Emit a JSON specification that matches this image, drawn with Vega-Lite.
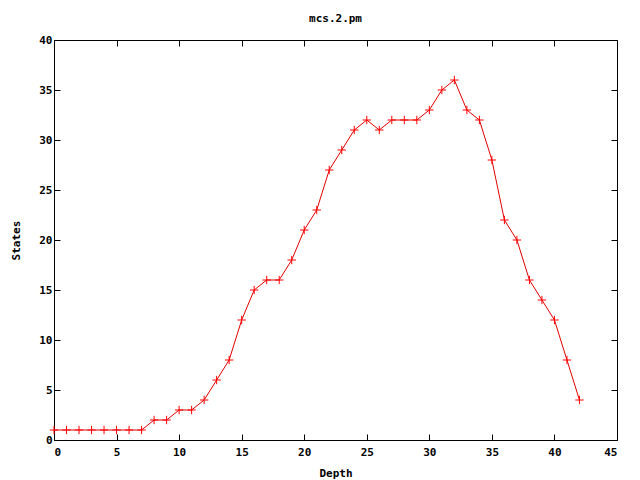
{
  "$schema": "https://vega.github.io/schema/vega-lite/v6.json",
  "width": 563,
  "height": 400,
  "autosize": {"type": "none"},
  "padding": {"left": 54, "top": 40, "right": 23, "bottom": 40},
  "background": "white",
  "title": {"text": "mcs.2.pm", "font": "DejaVu Sans Mono", "fontSize": 11, "fontWeight": "bold", "color": "black", "offset": 10, "anchor": "middle"},
  "config": {
    "view": {"stroke": null},
    "axis": {"grid": false, "domainColor": "black", "tickColor": "black", "tickSize": -6, "labelFont": "DejaVu Sans Mono", "labelFontSize": 11, "labelFontWeight": "bold", "labelColor": "black", "titleFont": "DejaVu Sans Mono", "titleFontSize": 11, "titleFontWeight": "bold", "titleColor": "black", "labelPadding": 10}
  },
  "data": {"values": [
    {"depth": 0, "states": 1}, {"depth": 1, "states": 1}, {"depth": 2, "states": 1}, {"depth": 3, "states": 1},
    {"depth": 4, "states": 1}, {"depth": 5, "states": 1}, {"depth": 6, "states": 1}, {"depth": 7, "states": 1},
    {"depth": 8, "states": 2}, {"depth": 9, "states": 2}, {"depth": 10, "states": 3}, {"depth": 11, "states": 3},
    {"depth": 12, "states": 4}, {"depth": 13, "states": 6}, {"depth": 14, "states": 8}, {"depth": 15, "states": 12},
    {"depth": 16, "states": 15}, {"depth": 17, "states": 16}, {"depth": 18, "states": 16}, {"depth": 19, "states": 18},
    {"depth": 20, "states": 21}, {"depth": 21, "states": 23}, {"depth": 22, "states": 27}, {"depth": 23, "states": 29},
    {"depth": 24, "states": 31}, {"depth": 25, "states": 32}, {"depth": 26, "states": 31}, {"depth": 27, "states": 32},
    {"depth": 28, "states": 32}, {"depth": 29, "states": 32}, {"depth": 30, "states": 33}, {"depth": 31, "states": 35},
    {"depth": 32, "states": 36}, {"depth": 33, "states": 33}, {"depth": 34, "states": 32}, {"depth": 35, "states": 28},
    {"depth": 36, "states": 22}, {"depth": 37, "states": 20}, {"depth": 38, "states": 16}, {"depth": 39, "states": 14},
    {"depth": 40, "states": 12}, {"depth": 41, "states": 8}, {"depth": 42, "states": 4}
  ]},
  "layer": [
    {
      "mark": {"type": "line", "color": "#e00000", "strokeWidth": 1},
      "encoding": {
        "x": {"field": "depth", "type": "quantitative", "scale": {"domain": [0, 45], "nice": false, "zero": false}, "axis": {"title": "Depth", "values": [0,5,10,15,20,25,30,35,40,45], "titlePadding": 10, "labelPadding": 12}},
        "y": {"field": "states", "type": "quantitative", "scale": {"domain": [0, 40], "nice": false}, "axis": {"title": "States", "values": [0,5,10,15,20,25,30,35,40], "titlePadding": 17, "labelPadding": 8}}
      }
    },
    {
      "mark": {"type": "point", "shape": "M-1,0L1,0M0,-1L0,1", "filled": false, "color": "#ff0000", "strokeWidth": 1, "size": 70, "opacity": 1},
      "encoding": {
        "x": {"field": "depth", "type": "quantitative", "axis": {"orient": "top", "labels": false, "title": null, "values": [0,5,10,15,20,25,30,35,40,45]}},
        "y": {"field": "states", "type": "quantitative", "axis": {"orient": "right", "labels": false, "title": null, "values": [0,5,10,15,20,25,30,35,40]}}
      }
    }
  ],
  "resolve": {"axis": {"x": "independent", "y": "independent"}}
}
